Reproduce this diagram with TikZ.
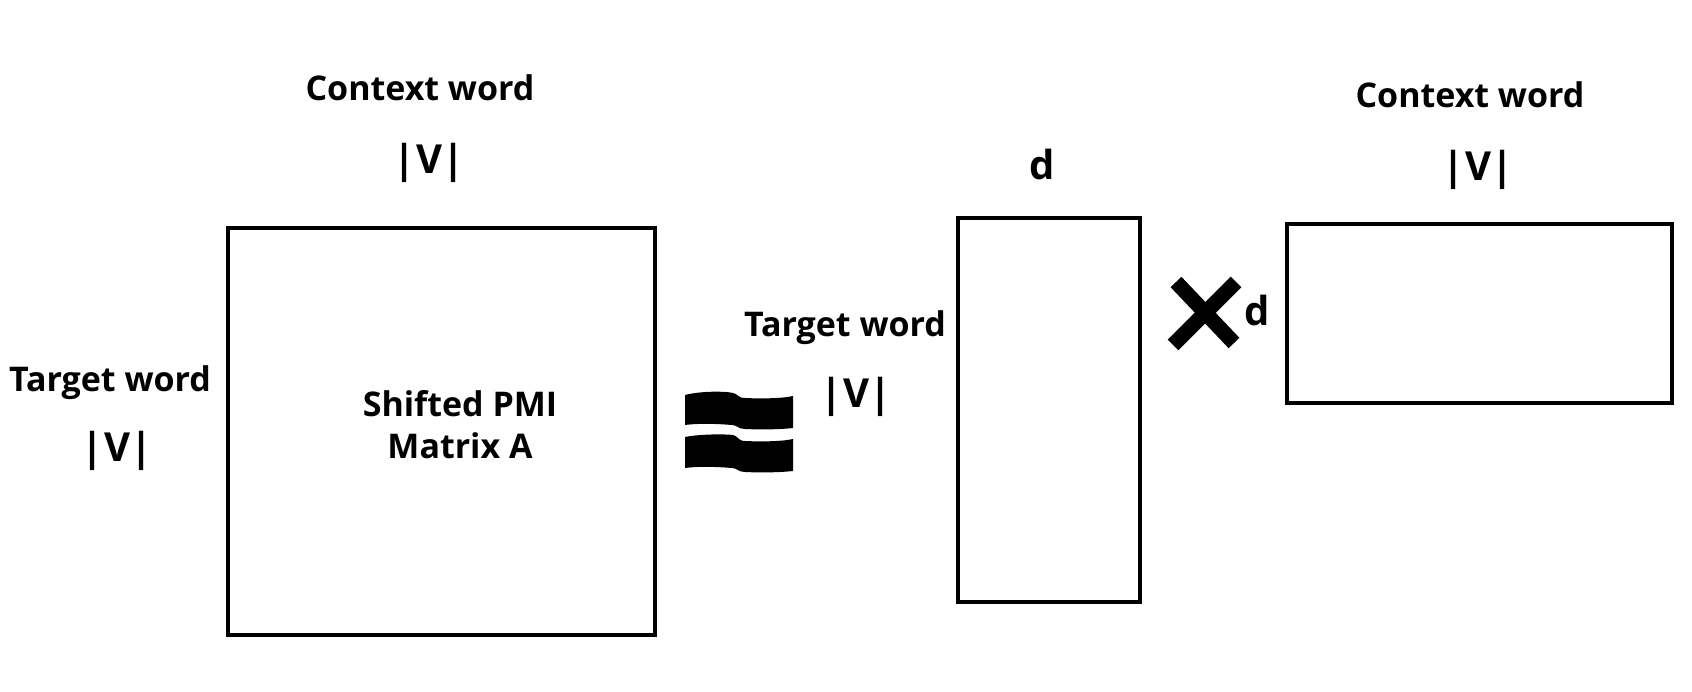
\documentclass[tikz,border=0pt]{standalone}
\usepackage{fontspec}
\setmainfont{Open Sans}
\begin{document}
\begin{tikzpicture}[x=1pt,y=-1pt,
  mat/.style={draw=black,line width=4.6pt},
  lbl/.style={font=\fontsize{34}{42}\selectfont\bfseries,inner sep=0pt,anchor=center},
  vlbl/.style={font=\fontsize{40}{46}\selectfont\bfseries,inner sep=0pt,anchor=center},
  band/.style={fill=black,draw=none}]
\useasboundingbox (0,0) rectangle (1692,692);
% matrices
\draw[mat] (228,228) rectangle (655,635);
\draw[mat] (958,218) rectangle (1140,602);
\draw[mat] (1287,224) rectangle (1672,403);
% labels
\node[lbl] (cw1) at (420,88) {Context word};
\node[vlbl] (v1) at (429,163) {|V|};
\node[lbl] (tw1) at (110,383) {Target word};
\node[vlbl] (v2) at (117,451) {|V|};
\node[lbl,align=center] (spmi) at (460,425) {Shifted PMI\\Matrix A};
\node[lbl] (tw2) at (845,328) {Target word};
\node[vlbl] (v3) at (856,397) {|V|};
\node[vlbl] (d1) at (1042,165) {d};
\node[vlbl] (d2) at (1257,311) {d};
\node[lbl] (cw2) at (1470,95) {Context word};
\node[vlbl] (v4) at (1478,170) {|V|};
% approx sign
\fill[band] (685,395) .. controls (700,391) and (725,391) .. (733,393)
  .. controls (738,394) and (738,398) .. (745,398)
  .. controls (765,399) and (785,398) .. (793,396)
  -- (793,428) .. controls (785,429) and (765,430) .. (745,429)
  .. controls (738,429) and (737,425) .. (732,425)
  .. controls (720,424) and (700,423) .. (685,425) -- cycle;
\fill[band] (685,437) .. controls (700,434) and (725,434) .. (733,435)
  .. controls (738,436) and (738,441) .. (745,441)
  .. controls (765,442) and (785,441) .. (793,439)
  -- (793,471) .. controls (785,472) and (765,473) .. (745,472)
  .. controls (738,472) and (737,468) .. (732,468)
  .. controls (720,467) and (700,466) .. (685,468) -- cycle;
% times sign
\draw[line width=15pt,black,line cap=butt] (1176,282) -- (1234,343);
\draw[line width=15pt,black,line cap=butt] (1236,282) -- (1173,345);
\end{tikzpicture}
\end{document}
